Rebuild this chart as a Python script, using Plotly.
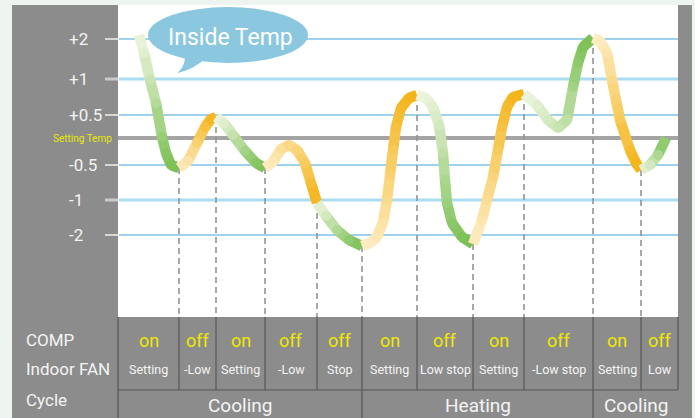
import plotly.graph_objects as go

# ---------------- data ----------------
# time axis: column boundaries of the operation table
col_bounds = [0, 61, 98, 147, 199, 244, 299, 355, 406, 475, 523, 560]
comp_state = ["on", "off", "on", "off", "off", "on", "off", "on", "off", "on", "off"]
fan_state = ["Setting", "-Low", "Setting", "-Low", "Stop", "Setting", "Low stop",
             "Setting", "-Low stop", "Setting", "Low"]
cycle_names = ["Cooling", "Heating", "Cooling"]
cycle_bounds = [0, 244, 475, 560]

# temperature scale (non-linear gridline positions)
grid_labels = ["+2", "+1", "+0.5", "-0.5", "-1", "-2"]
grid_pos = [9.9, 5.9, 2.3, -2.7, -6.2, -9.7]
setting_pos = 0.0

# inside temperature curve, one list per compressor phase
seg1_x = [21, 26, 32, 38, 44, 48, 53, 61]
seg1_y = [10.3, 8.5, 5.8, 3.5, 0.1, -1.5, -2.7, -3.0]
seg2_x = [61, 70, 79, 87, 93, 98]
seg2_y = [-3.0, -2.3, -0.5, 1.1, 1.9, 2.1]
seg3_x = [98, 106, 115, 127, 138, 147]
seg3_y = [2.1, 1.5, 0.3, -1.3, -2.5, -3.0]
seg4_x = [147, 155, 163, 171, 179, 187, 193, 199]
seg4_y = [-3.0, -2.4, -1.1, -0.7, -1.2, -2.5, -4.5, -6.5]
seg5_x = [199, 208, 219, 231, 244]
seg5_y = [-6.5, -7.8, -9.2, -10.2, -10.8]
seg6_x = [244, 252, 259, 265, 269, 272, 275, 278, 283, 291, 299]
seg6_y = [-10.8, -10.5, -9.9, -8.4, -6.2, -3.7, -1.2, 1.1, 3.0, 4.0, 4.3]
seg7_x = [299, 308, 315, 321, 325, 327, 329, 334, 344, 355]
seg7_y = [4.3, 4.0, 3.1, 1.3, -1.5, -4.2, -6.5, -8.5, -9.9, -10.6]
seg8_x = [355, 364, 369, 375, 380, 384, 389, 395, 406]
seg8_y = [-10.6, -8.2, -6.2, -3.9, -1.2, 1.1, 3.1, 4.1, 4.4]
seg9_x = [406, 419, 430, 440, 449, 455, 460, 465, 475]
seg9_y = [4.4, 3.3, 1.8, 1.0, 1.8, 5.1, 7.5, 9.1, 10.0]
seg10_x = [475, 482, 489, 494, 498, 502, 512, 518, 523]
seg10_y = [10.0, 9.7, 8.5, 5.8, 3.8, 1.8, -1.2, -2.5, -3.2]
seg11_x = [523, 532, 540, 548]
seg11_y = [-3.2, -2.7, -1.7, 0.0]

segments = [(seg1_x, seg1_y, "g"), (seg2_x, seg2_y, "o"), (seg3_x, seg3_y, "g"),
            (seg4_x, seg4_y, "o"), (seg5_x, seg5_y, "g"), (seg6_x, seg6_y, "o"),
            (seg7_x, seg7_y, "g"), (seg8_x, seg8_y, "o"), (seg9_x, seg9_y, "g"),
            (seg10_x, seg10_y, "o"), (seg11_x, seg11_y, "g")]

# ---------------- styles ----------------
PALE = {"g": (240, 246, 226), "o": (254, 238, 200)}
SAT = {"g": (118, 190, 78), "o": (243, 178, 18)}
GRAY = "#8c8c8c"
LINEW = 10.5

# axis units: x -> pixel offset from plot left, y -> tenth-pixel levels
X0, X1 = -118, 577
Y0, Y1 = -28.0, 13.8


def mix(a, b, t):
    return "rgb(%d,%d,%d)" % tuple(round(a[i] + (b[i] - a[i]) * t) for i in range(3))


fig = go.Figure()
shapes = []
ann = []

# background panels
shapes.append(dict(type="rect", x0=-106, x1=574, y0=Y0 - 1, y1=13.3, fillcolor=GRAY,
                   line_width=0, layer="below"))
shapes.append(dict(type="rect", x0=0, x1=560, y0=-17.9, y1=13.3, fillcolor="white",
                   line_width=0, layer="below"))

# gridlines + ticks + labels
for lab, p in zip(grid_labels, grid_pos):
    thick = lab in ("+1", "-1")
    shapes.append(dict(type="line", x0=1, x1=560, y0=p, y1=p, layer="below",
                       line=dict(color="#acdcf1" if thick else "#7ec2e4", width=3 if thick else 1.5)))
    shapes.append(dict(type="line", x0=-13, x1=0, y0=p, y1=p, layer="below",
                       line=dict(color="#c9c9c9" if thick else "#f2f2f2", width=3 if thick else 1.5)))
    ann.append(dict(x=-51, y=p, text=lab, showarrow=False, xanchor="left", yanchor="middle",
                    font=dict(family="Roboto", size=17, color="#f4f4f4")))

shapes.append(dict(type="line", x0=0, x1=560, y0=setting_pos, y1=setting_pos, layer="below",
                   line=dict(color="#a4a4a4", width=4)))
ann.append(dict(x=-4, y=setting_pos, text="Setting Temp", showarrow=False, xanchor="right",
                yanchor="middle", font=dict(family="Roboto", size=10, color="#eaea00")))

# dashed drop lines at phase boundaries
for (sx, sy, kind), b in zip(segments[:-1], col_bounds[1:-1]):
    shapes.append(dict(type="line", x0=b, x1=b, y0=sy[-1], y1=-17.9, layer="below",
                       line=dict(color="#939393", width=1.6, dash="6px,4px")))

# speech bubble
shapes.append(dict(type="circle", x0=30, x1=190, y0=7.5, y1=13.1, fillcolor="#8bc8e0",
                   line_width=0, layer="below"))
shapes.append(dict(type="path", path="M 67,8.0 Q 66,7.0 59,6.5 Q 75,6.8 88,8.0 Z",
                   fillcolor="#8bc8e0", line_width=0, layer="below"))
ann.append(dict(x=112, y=10.1, text="Inside Temp", showarrow=False,
                font=dict(family="Roboto", size=23, color="white")))

# curve with gradient per phase
for sx, sy, kind in segments:
    n = len(sx)
    d = [0.0]
    for i in range(1, n):
        d.append(d[-1] + ((sx[i] - sx[i - 1]) ** 2 + ((sy[i] - sy[i - 1]) * 10) ** 2) ** 0.5)
    tot = d[-1]
    for i in range(n - 1):
        t = (d[i] + d[i + 1]) / 2 / tot
        fig.add_trace(go.Scatter(x=[sx[i], sx[i + 1]], y=[sy[i], sy[i + 1]], mode="lines",
                                 line=dict(color=mix(PALE[kind], SAT[kind], t), width=LINEW),
                                 hoverinfo="skip", showlegend=False))
    fig.add_trace(go.Scatter(x=sx[1:-1], y=sy[1:-1], mode="markers",
                             marker=dict(size=LINEW - 0.5,
                                         color=[mix(PALE[kind], SAT[kind], d[i] / tot) for i in range(1, n - 1)],
                                         line_width=0),
                             hoverinfo="skip", showlegend=False))

# ---------------- table ----------------
TOP, MID, BOT = -17.9, -25.2, Y0 - 1
LC = "#575757"
shapes.append(dict(type="line", x0=0, x1=560, y0=MID, y1=MID, line=dict(color=LC, width=1.2)))
for b in col_bounds:
    shapes.append(dict(type="line", x0=b, x1=b, y0=TOP, y1=MID, line=dict(color=LC, width=1.2)))
for b in cycle_bounds[:-1]:
    shapes.append(dict(type="line", x0=b, x1=b, y0=MID, y1=BOT, line=dict(color=LC, width=1.2)))

for i in range(len(comp_state)):
    cx = (col_bounds[i] + col_bounds[i + 1]) / 2
    ann.append(dict(x=cx, y=-20.2, text=comp_state[i], showarrow=False,
                    font=dict(family="Roboto", size=18, color="#f0e800")))
    ann.append(dict(x=cx, y=-23.1, text=fan_state[i], showarrow=False,
                    font=dict(family="Roboto", size=12.5, color="#f4f4f4")))
for i, c in enumerate(cycle_names):
    cx = (cycle_bounds[i] + cycle_bounds[i + 1]) / 2
    ann.append(dict(x=cx, y=-26.7, text=c, showarrow=False,
                    font=dict(family="Roboto", size=19, color="#f4f4f4")))

for lab, yy in (("COMP", -20.2), ("Indoor FAN", -23.1), ("Cycle", -26.2)):
    ann.append(dict(x=-94, y=yy, text=lab, showarrow=False, xanchor="left",
                    font=dict(family="Roboto", size=17, color="#f4f4f4")))

fig.update_layout(width=695, height=418, margin=dict(l=0, r=0, t=0, b=0),
                  paper_bgcolor="#eef5f1", plot_bgcolor="#eef5f1",
                  xaxis=dict(range=[X0, X1], visible=False, fixedrange=True),
                  yaxis=dict(range=[Y0, Y1], visible=False, fixedrange=True),
                  shapes=shapes, annotations=ann, showlegend=False)

fig.write_html("out.html", config={"displayModeBar": False},
               post_script="document.body.style.margin='0';document.body.style.overflow='hidden';")
